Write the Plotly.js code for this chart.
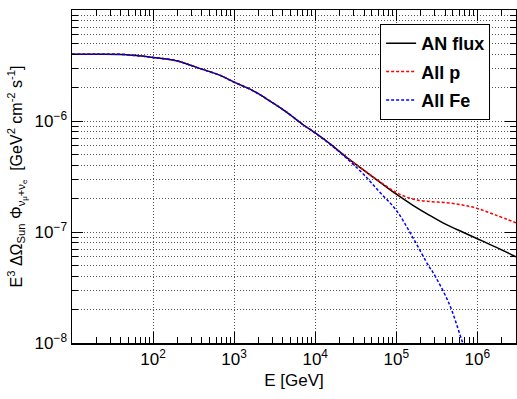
<!DOCTYPE html>
<html>
<head>
<meta charset="utf-8">
<script src="https://cdn.plot.ly/plotly-3.0.1.min.js"></script>
<style>html,body{margin:0;padding:0;background:#fff;}#chart{width:517px;height:399px;}</style>
</head>
<body>
<div id="chart"></div>
<script>
// Energy [GeV] and flux values
const energyAN = [10, 20, 43, 100, 200, 343, 660, 1000, 1700, 2740, 4390, 7030, 10000, 15000, 24000, 38500, 62000, 100000, 159000, 255000, 410000, 656000, 1000000, 1690000, 3000000];
const fluxAN   = [4.0e-6, 4.0e-6, 3.97e-6, 3.74e-6, 3.47e-6, 3.04e-6, 2.59e-6, 2.24e-6, 1.88e-6, 1.52e-6, 1.21e-6, 9.3e-7, 7.8e-7, 6.28e-7, 4.75e-7, 3.66e-7, 2.83e-7, 2.19e-7, 1.75e-7, 1.42e-7, 1.17e-7, 1.0e-7, 8.7e-8, 7.3e-8, 5.97e-8];

const energyP = [10, 20, 43, 100, 200, 343, 660, 1000, 1700, 2740, 4390, 7030, 10000, 15000, 24000, 38500, 62000, 100000, 159000, 255000, 410000, 656000, 1000000, 1690000, 3000000];
const fluxP   = [4.0e-6, 4.0e-6, 3.97e-6, 3.74e-6, 3.47e-6, 3.04e-6, 2.59e-6, 2.24e-6, 1.88e-6, 1.52e-6, 1.21e-6, 9.3e-7, 7.8e-7, 6.28e-7, 4.76e-7, 3.68e-7, 2.86e-7, 2.27e-7, 1.98e-7, 1.88e-7, 1.84e-7, 1.75e-7, 1.63e-7, 1.42e-7, 1.21e-7];

const energyFe = [10, 20, 43, 100, 200, 343, 660, 1000, 1700, 2740, 4390, 7030, 10000, 15000, 24000, 38500, 62000, 100000, 159000, 255000, 280000, 449000, 655000, 794000];
const fluxFe   = [4.0e-6, 4.0e-6, 3.97e-6, 3.74e-6, 3.47e-6, 3.04e-6, 2.59e-6, 2.24e-6, 1.88e-6, 1.52e-6, 1.21e-6, 9.3e-7, 7.8e-7, 6.25e-7, 4.66e-7, 3.37e-7, 2.30e-7, 1.57e-7, 9.0e-8, 4.85e-8, 4.4e-8, 2.26e-8, 1.02e-8, 7.0e-9];

const seriesNames = ["AN flux", "All p", "All Fe"];
const xMajorVals = [100, 1000, 10000, 100000, 1000000];
const xMajorText = ["10<sup>2</sup>", "10<sup>3</sup>", "10<sup>4</sup>", "10<sup>5</sup>", "10<sup>6</sup>"];
const yMajorVals = [1e-8, 1e-7, 1e-6, 1e-5];
const yMajorText = ["10<sup>\u22128</sup>", "10<sup>\u22127</sup>", "10<sup>\u22126</sup>", "10<sup>\u22125</sup>"];

function minorVals(lo, hi) {
  const out = [];
  for (let e = lo; e <= hi; e++) {
    for (let m = 2; m <= 9; m++) out.push(m * Math.pow(10, e));
  }
  return out;
}
const xMinor = minorVals(1, 6);
const yMinor = minorVals(-8, -6);

const FONT = "'Liberation Sans', Arial, sans-serif";
const GRID = {color: "#555", dash: "1px,2px"};

const traces = [
  {x: energyAN, y: fluxAN, name: seriesNames[0], mode: "lines", line: {color: "#000000", width: 1.5, shape: "spline"}, legendgroup: "a"},
  {x: energyP, y: fluxP, name: seriesNames[1], mode: "lines", line: {color: "#ff0000", width: 1.5, dash: "3px,2px", shape: "spline"}, legendgroup: "b"},
  {x: energyFe, y: fluxFe, name: seriesNames[2], mode: "lines", line: {color: "#0000ff", width: 1.5, dash: "3px,2px", shape: "spline"}, legendgroup: "c"}
];

const layout = {
  width: 517, height: 399,
  margin: {l: 72, r: 1, t: 10, b: 56},
  paper_bgcolor: "#ffffff", plot_bgcolor: "#ffffff",
  font: {family: FONT, color: "#000", size: 17},
  showlegend: true,
  legend: {
    x: 0.694, y: 0.958, xanchor: "left", yanchor: "top",
    bgcolor: "#ffffff", bordercolor: "#000000", borderwidth: 1,
    font: {family: FONT, size: 18, weight: "bold", color: "#000"},
    itemwidth: 30, tracegroupgap: 2, traceorder: "grouped"
  },
  xaxis: {
    type: "log", range: [1, 6.477],
    tickmode: "array", tickvals: xMajorVals, ticktext: xMajorText,
    ticks: "inside", ticklen: 11, tickwidth: 1, tickcolor: "#000",
    showline: true, linecolor: "#000", linewidth: 1.5, mirror: "allticks",
    showgrid: true, gridcolor: GRID.color, griddash: GRID.dash, gridwidth: 1,
    zeroline: false,
    tickfont: {size: 17},
    minor: {tickmode: "array", tickvals: xMinor, ticks: "inside", ticklen: 6, tickcolor: "#000", showgrid: false},
    title: {text: "E [GeV]", font: {size: 17}, standoff: 6}
  },
  yaxis: {
    type: "log", range: [-8, -5],
    tickmode: "array", tickvals: yMajorVals, ticktext: yMajorText,
    ticks: "inside", ticklen: 11, tickwidth: 1, tickcolor: "#000",
    showline: true, linecolor: "#000", linewidth: 1.5, mirror: "allticks",
    showgrid: true, gridcolor: GRID.color, griddash: GRID.dash, gridwidth: 1,
    zeroline: false,
    tickfont: {size: 17},
    minor: {tickmode: "array", tickvals: yMinor, ticks: "inside", ticklen: 6, tickcolor: "#000", showgrid: true, gridcolor: GRID.color, griddash: GRID.dash, gridwidth: 1},
    title: {text: "E<sup>3</sup> \u0394\u03A9<sub>Sun</sub> \u03A6<sub>\u03BD<sub>\u03BC</sub>+\u03BD<sub>e</sub></sub>  [GeV<sup>2</sup> cm<sup>-2</sup> s<sup>-1</sup>]", font: {size: 16}, standoff: 8}
  }
};

Plotly.newPlot("chart", traces, layout, {displayModeBar: false, staticPlot: true});
</script>
</body>
</html>
